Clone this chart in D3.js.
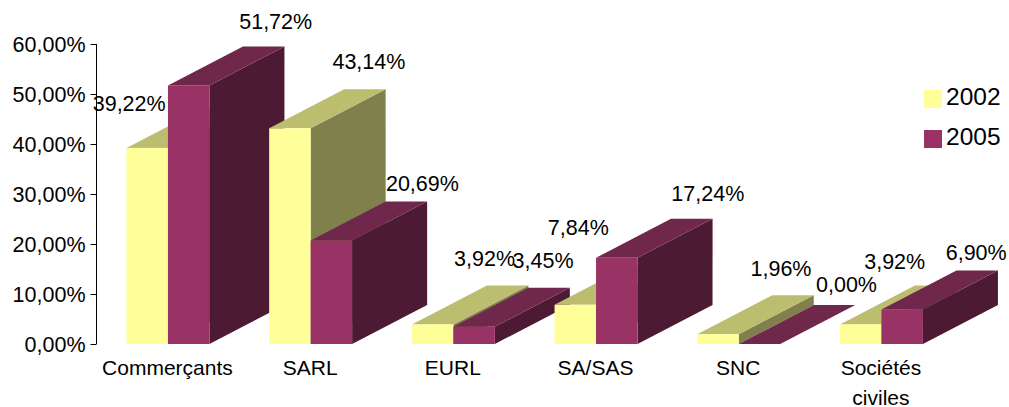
<!DOCTYPE html>
<html>
<head>
<meta charset="utf-8">
<script src="https://cdnjs.cloudflare.com/ajax/libs/d3/7.8.5/d3.min.js"></script>
<style>
  html, body { margin: 0; padding: 0; background: #fff; }
  text { font-family: "Liberation Sans", Arial, sans-serif; fill: #000; }
</style>
</head>
<body>
<div id="chart"></div>
<script>
const categories = ["Commerçants", "SARL", "EURL", "SA/SAS", "SNC", "Sociétés civiles"]
const years = ["2002", "2005"]
const values2002 = [39.22, 43.14, 3.92, 7.84, 1.96, 3.92]
const values2005 = [51.72, 20.69, 3.45, 17.24, 0, 6.9]
const yTicks = [0, 10, 20, 30, 40, 50, 60]

// hand placed labels in the original, nudged from the top back edge of each bar
const nudge2002 = [[-94, -8], [3, -30], [-24, -29], [-73, -41], [-13, -29], [-42, -26]]
const nudge2005 = [[11, -27], [15, -21], [-7, -30], [15, -28], [11, -23], [-2, -21]]

const width = 1009
const height = 407
const depth = { x: 75, y: 39 }
const frFormat = v => v.toFixed(2).replace(".", ",") + "%"

const colors = {
    "2002": { front: "#ffff99", top: "#bdbd70", side: "#80804d" },
    "2005": { front: "#993366", top: "#70274c", side: "#4d1a33" }
}

const svg = d3.select("#chart").append("svg")
    .attr("width", width)
    .attr("height", height)

const y = d3.scaleLinear().domain([0, 60]).range([344, 44])
const x0 = d3.scaleBand().domain(categories).range([96.6, 952.8])
const x1 = d3.scaleBand().domain(years).range([0, x0.bandwidth()]).paddingInner(0).paddingOuter(0.72)

const yAxis = d3.axisLeft(y).tickValues(yTicks).tickFormat(frFormat).tickSize(6).tickSizeOuter(0)
const axisG = svg.append("g").attr("transform", "translate(96.5,0)").call(yAxis)
axisG.selectAll("line,path").attr("stroke", "#000")
axisG.selectAll("text").attr("font-size", 21.5).attr("x", -11).attr("dy", "0.34em")
axisG.select("path").attr("d", `M0,${y(60)}V${y(0)}`)

const rows = categories.flatMap((c, i) => [
    { cat: c, year: "2002", value: values2002[i], nudge: nudge2002[i] },
    { cat: c, year: "2005", value: values2005[i], nudge: nudge2005[i] }
])

const bars = svg.append("g").selectAll("g").data(rows).enter().append("g")

bars.append("path")
    .attr("fill", d => colors[d.year].side)
    .attr("d", d => {
        const r = x0(d.cat) + x1(d.year) + x1.bandwidth()
        return `M${r},${y(d.value)}l${depth.x},${-depth.y}V${y(0) - depth.y}l${-depth.x},${depth.y}Z`
    })

bars.append("path")
    .attr("fill", d => colors[d.year].top)
    .attr("d", d => {
        const l = x0(d.cat) + x1(d.year)
        return `M${l},${y(d.value)}l${depth.x},${-depth.y}h${x1.bandwidth()}l${-depth.x},${depth.y}Z`
    })

bars.append("rect")
    .attr("fill", d => colors[d.year].front)
    .attr("x", d => x0(d.cat) + x1(d.year))
    .attr("y", d => y(d.value))
    .attr("width", x1.bandwidth())
    .attr("height", d => y(0) - y(d.value))

svg.append("g").selectAll("text").data(rows).enter().append("text")
    .attr("font-size", 21.5)
    .attr("text-anchor", "middle")
    .attr("x", d => x0(d.cat) + x1(d.year) + x1.bandwidth() / 2 + depth.x + d.nudge[0] + 1)
    .attr("y", d => y(d.value) - depth.y + d.nudge[1] + 10)
    .text(d => frFormat(d.value))

// category labels, the last one wraps
const catText = svg.append("g").selectAll("text").data(categories).enter().append("text")
    .attr("font-size", 21)
    .attr("text-anchor", "middle")
    .attr("y", 375)

catText.each(function (c) {
    const words = c.split(" ")
    const cx = x0(c) + x0.bandwidth() / 2 - 0.5
    words.forEach((w, i) => {
        d3.select(this).append("tspan")
            .attr("x", cx)
            .attr("y", 375 + i * 30)
            .text(w)
    })
})

const legend = svg.append("g").selectAll("g").data(years).enter().append("g")
    .attr("transform", (d, i) => `translate(924,${90 + i * 40})`)
legend.append("rect")
    .attr("width", 18)
    .attr("height", 18)
    .attr("fill", d => colors[d].front)
legend.append("text")
    .attr("x", 22)
    .attr("y", 14.5)
    .attr("font-size", 24.5)
    .text(d => d)
</script>
</body>
</html>
